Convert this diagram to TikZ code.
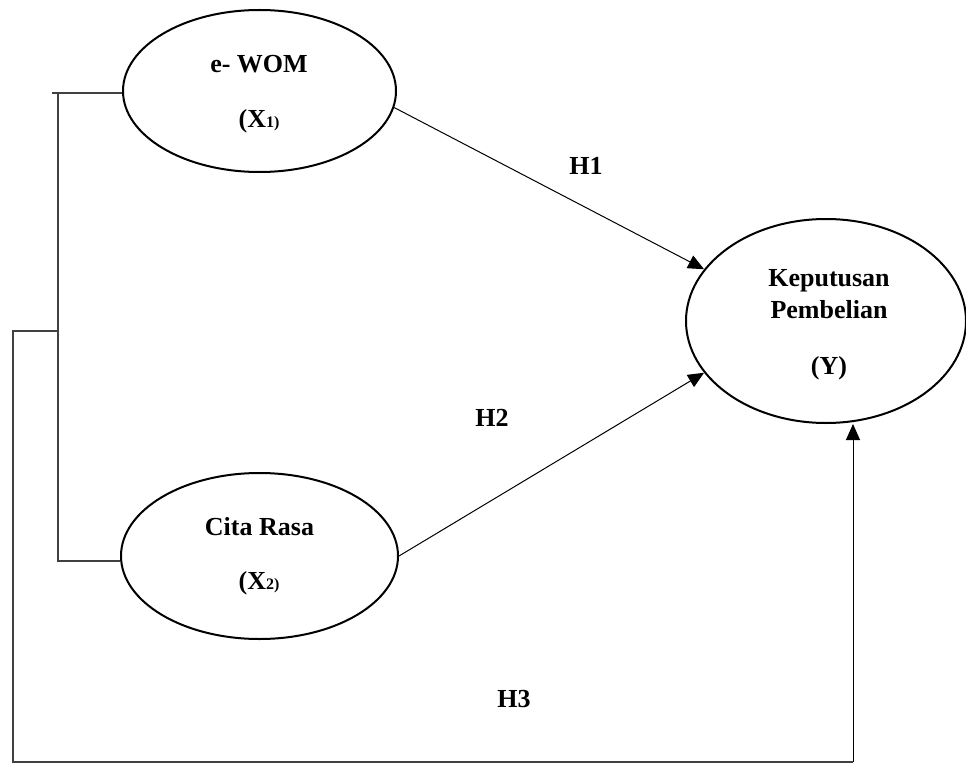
\documentclass[tikz,border=0pt]{standalone}
\usepackage{fontspec}
\setmainfont{Liberation Serif}
\usetikzlibrary{arrows.meta,shapes.geometric}
\begin{document}
\begin{tikzpicture}[x=1pt,y=-1pt,
  font=\fontsize{26}{30}\selectfont\bfseries,
  latent/.style={draw, ellipse, line width=2pt, inner sep=0pt},
  link/.style={line width=1pt, -{Triangle[length=16pt,width=14pt]}},
  frame/.style={line width=1.5pt, draw=black!75},
  lbl/.style={anchor=base, inner sep=0pt}]
\useasboundingbox (0,0) rectangle (966,765);

% latent variables
\node[latent, minimum width=273pt, minimum height=162pt] (x1) at (259.5,91) {};
\node[latent, minimum width=277pt, minimum height=166pt] (x2) at (259.5,556) {};
\node[latent, minimum width=280pt, minimum height=204pt] (y) at (826,321) {};

% texts
\node[lbl] (t1a) at (259,73) {e- WOM};
\node[lbl] (t1b) at (259,128) {(X{\fontsize{16}{18}\selectfont 1)}};
\node[lbl] (t2a) at (259.5,535) {Cita Rasa};
\node[lbl] (t2b) at (259,589) {(X{\fontsize{16}{18}\selectfont 2)}};
\node[lbl] (t3a) at (829,286) {Keputusan};
\node[lbl] (t3b) at (829,318) {Pembelian};
\node[lbl] (t3c) at (829,374) {(Y)};

% hypothesis labels
\node (h1) at (586,166) {H1};
\node (h2) at (492,418) {H2};
\node (h3) at (514,699) {H3};

% bracket joining X1 and X2
\coordinate (b1) at (52,93);
\coordinate (b2) at (58,93);
\coordinate (b3) at (58,561);
\draw[frame] (b1) -- (b1 -| x1.west);
\draw[frame] (b2) -- (b3) -- (b3 -| x2.west);

% H3 path
\coordinate (c1) at (59,331);
\coordinate (c2) at (13,331);
\coordinate (c3) at (13,762);
\coordinate (c4) at (853,762);
\draw[frame] (c1) -- (c2) -- (c3) -- (c4);
\draw[link] (c4) -- (c4 |- y.south);

% H1, H2 arrows
\draw[link] (x1.-7.6) -- (y.157);
\draw[link] (x2.0) -- (y.203.7);
\end{tikzpicture}
\end{document}
